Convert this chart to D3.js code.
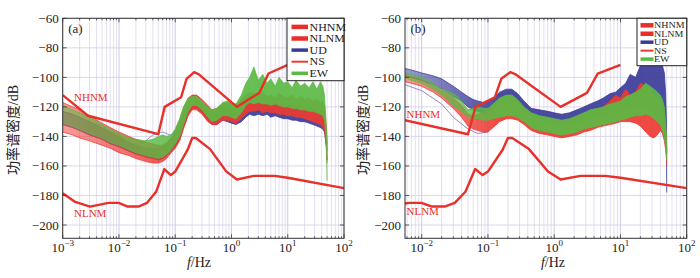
<!DOCTYPE html>
<html>
<head>
<meta charset="utf-8">
<script src="https://cdn.jsdelivr.net/npm/d3@7"></script>
<style>
  body { margin: 0; background: #fff; }
  svg text { font-family: "Liberation Serif", "DejaVu Serif", serif; fill: #222; }
</style>
</head>
<body>
<svg id="chart" width="700" height="278"></svg>
<script>
// ── Noise models (dB vs Hz) ──────────────────────────────────────────────────
const NHNM_F = [0.001, 0.00282, 0.05, 0.065, 0.127, 0.159, 0.217, 0.263, 1.25, 3.125, 4.545, 10];
const NHNM_V = [-112, -126, -138.5, -120, -113.5, -101, -96.5, -98, -120, -110.5, -97.4, -91.5];
const NLNM_F = [0.001, 0.00167, 0.00305, 0.0065, 0.0099, 0.0143, 0.0222, 0.0316, 0.0457, 0.0641,
                0.0833, 0.1, 0.1667, 0.2, 0.2326, 0.4167, 0.806, 1.25, 2.5, 5.88, 10, 100];
const NLNM_V = [-178.5, -184.4, -187.5, -185, -185, -187.5, -187.5, -185, -177.5, -162.1,
                -166.2, -163.8, -149, -141.1, -141.1, -148.6, -163.7, -169.2, -166.7, -166.7, -168, -175];

// ── Panel (a): PSD envelopes per component ───────────────────────────────────
const FA = [0.001, 0.0015, 0.002, 0.003, 0.005, 0.007, 0.01, 0.015, 0.02, 0.03,
            0.04, 0.05, 0.06, 0.07, 0.085, 0.1, 0.12, 0.14, 0.17, 0.2,
            0.24, 0.3, 0.38, 0.45, 0.55, 0.7, 0.85, 1.0, 1.2, 1.5,
            1.8, 2.1, 2.5, 3.0, 3.6, 4.3, 5.0, 6.0, 7.0, 8.5,
            10, 12, 14, 17, 20, 24, 28, 33, 38, 42,
            45, 47, 49, 50];
const UD_A_HI = [-123, -125, -127, -130, -134, -137, -140, -144, -146, -148,
                 -148, -148, -147, -145, -142, -137, -131, -123, -116, -114,
                 -114, -117, -121, -124, -123, -120, -120, -121, -122, -120,
                 -118, -117, -118, -116, -118, -117, -118, -117, -119, -118,
                 -119, -118, -120, -119, -121, -120, -122, -121, -123, -122,
                 -126, -132, -140, -150];
const UD_A_LO = [-132, -134, -136, -139, -142, -145, -147, -150, -152, -154,
                 -155, -156, -155, -153, -150, -147, -142, -134, -125, -121,
                 -121, -124, -129, -132, -132, -129, -130, -131, -132, -130,
                 -127, -125, -126, -125, -126, -125, -127, -126, -127, -128,
                 -128, -129, -129, -130, -130, -131, -132, -133, -134, -135,
                 -137, -142, -148, -156];
const NS_A_HI = [-117, -120, -122, -126, -131, -134, -137, -140, -142, -144,
                 -145, -146, -146, -144, -141, -136, -129, -121, -114, -112,
                 -112, -115, -119, -122, -121, -118, -117, -118, -119, -115,
                 -112, -110, -111, -112, -110, -113, -112, -114, -111, -113,
                 -114, -112, -115, -113, -115, -114, -116, -115, -117, -116,
                 -120, -128, -135, -145];
const NS_A_LO = [-137, -139, -141, -143, -146, -148, -151, -153, -155, -157,
                 -158, -158, -157, -155, -151, -148, -143, -135, -126, -122,
                 -122, -125, -130, -132, -132, -129, -129, -130, -131, -128,
                 -125, -123, -123, -122, -124, -123, -124, -124, -125, -125,
                 -126, -126, -127, -127, -128, -129, -130, -131, -132, -134,
                 -136, -142, -150, -158];
const EW_A_HI = [-119, -122, -124, -127, -132, -135, -138, -141, -142, -143,
                 -142, -140, -139, -140, -139, -135, -128, -120, -114, -113,
                 -113, -116, -120, -122, -121, -117, -116, -117, -118, -112,
                 -104, -100, -93, -102, -98, -104, -101, -106, -100, -104,
                 -103, -107, -102, -106, -104, -107, -103, -108, -103, -106,
                 -112, -124, -138, -150];
const EW_A_LO = [-131, -133, -135, -138, -141, -144, -146, -149, -151, -153,
                 -154, -155, -154, -152, -149, -145, -140, -132, -123, -119,
                 -119, -122, -127, -130, -129, -126, -126, -127, -128, -124,
                 -119, -117, -118, -117, -118, -118, -119, -118, -119, -120,
                 -120, -121, -121, -122, -122, -123, -123, -124, -125, -126,
                 -129, -136, -145, -170];
// a few stray traces sitting above the bundle near 0.05 Hz
const STRAY_A_F = [0.02, 0.03, 0.04, 0.05, 0.06, 0.08, 0.1, 0.12, 0.14];
const STRAY_A_V = [-146, -143, -139, -138, -137, -139, -138, -134, -126];

// ── Panel (b) ────────────────────────────────────────────────────────────────
const FB = [0.0056, 0.007, 0.01, 0.015, 0.02, 0.03, 0.04, 0.05, 0.06, 0.07,
            0.085, 0.1, 0.12, 0.15, 0.19, 0.23, 0.28, 0.35, 0.45, 0.6,
            0.8, 1.0, 1.3, 1.7, 2.2, 2.8, 3.5, 4.5, 5.5, 7,
            8.5, 10, 12, 14, 17, 20, 24, 28, 32, 36,
            40, 43, 46, 48, 49.5, 50];
const UD_B_HI = [-94, -95, -97, -99, -101, -106, -110, -113, -115, -116,
                 -117, -116, -114, -110, -108, -108, -111, -116, -121, -122,
                 -123, -124, -125, -124, -122, -120, -118, -116, -114, -111,
                 -110, -107, -104, -98, -100, -92, -86, -84, -83, -86,
                 -88, -92, -97, -110, -130, -152];
const UD_B_LO = [-99, -100, -102, -105, -108, -113, -116, -120, -122, -123,
                 -124, -124, -122, -119, -117, -117, -119, -123, -127, -129,
                 -130, -131, -132, -132, -131, -129, -128, -127, -126, -125,
                 -124, -124, -122, -121, -120, -119, -120, -122, -125, -128,
                 -130, -134, -138, -142, -148, -178];
const NS_B_HI = [-99, -100, -102, -106, -109, -114, -119, -125, -126, -125,
                 -124, -123, -119, -115, -113, -113, -116, -121, -125, -127,
                 -128, -129, -130, -129, -127, -125, -123, -122, -120, -116,
                 -112, -114, -108, -112, -110, -104, -106, -108, -112, -114,
                 -116, -120, -126, -135, -145, -155];
const NS_B_LO = [-103, -104, -106, -110, -114, -121, -127, -133, -135, -136,
                 -137, -137, -134, -130, -128, -128, -129, -132, -136, -138,
                 -139, -140, -141, -140, -139, -137, -136, -134, -133, -132,
                 -131, -130, -130, -130, -131, -133, -137, -140, -141, -139,
                 -136, -138, -143, -149, -155, -160];
const EW_B_HI = [-97, -98, -100, -104, -108, -111, -116, -122, -121, -120,
                 -121, -121, -118, -114, -112, -112, -115, -120, -124, -126,
                 -127, -128, -129, -128, -126, -124, -122, -121, -120, -118,
                 -117, -116, -113, -112, -110, -108, -104, -106, -108, -110,
                 -112, -115, -120, -130, -140, -150];
const EW_B_LO = [-100, -102, -104, -108, -112, -119, -123, -127, -128, -128,
                 -129, -129, -128, -127, -126, -126, -127, -130, -134, -136,
                 -137, -138, -139, -138, -137, -135, -134, -133, -132, -131,
                 -130, -129, -128, -127, -126, -126, -125, -126, -128, -130,
                 -132, -136, -140, -146, -152, -156];
const STRAY_B_F = [0.0056, 0.01, 0.02, 0.03, 0.05, 0.07, 0.1];
const STRAY_B_V = [-105, -109, -118, -127, -135, -138, -137];

const Y_TICKS = [-60, -80, -100, -120, -140, -160, -180, -200];
const LEGEND_LABELS = ['NHNM', 'NLNM', 'UD', 'NS', 'EW'];

// ── Styles ───────────────────────────────────────────────────────────────────
const RED = '#e8302a', BLUE = '#3a3b98', NSRED = '#ec3a32', GREEN = '#5cb944';
const LEG_STYLE = [
    { color: RED,   w: 4.5 },
    { color: RED,   w: 4.5 },
    { color: BLUE,  w: 3.5 },
    { color: NSRED, w: 2 },
    { color: GREEN, w: 3.5 },
];

const svg = d3.select('#chart');
const defs = svg.append('defs');
const zip = (fs, his, los) => fs.map((f, i) => ({ f, hi: his[i], lo: los[i] }));
const pts = (fs, vs) => fs.map((f, i) => ({ f, v: vs[i] }));

const PANELS = [
    {
        id: 'a', tag: '(a)', left: 62.7, right: 344, fDomain: [1e-3, 100],
        bands: [
            { key: 'ud', color: BLUE,  data: zip(FA, UD_A_HI, UD_A_LO) },
            { key: 'ns', color: NSRED, data: zip(FA, NS_A_HI, NS_A_LO) },
            { key: 'ew', color: GREEN, data: zip(FA, EW_A_HI, EW_A_LO) },
        ],
        stray: pts(STRAY_A_F, STRAY_A_V), strayColor: '#8a9cc4',
        hnLabel: [74, 101], lnLabel: [74, 217],
        legend: { x0: 287, y0: 18.3, y1: 80.7, fs: 12, sy: 0.82, base: 30.5, step: 11.6, sw: [291.5, 308], tx: 309.5 },
        ylabX: 13, xlabX: 199,
    },
    {
        id: 'b', tag: '(b)', left: 405, right: 686.7, fDomain: [0.0056, 100],
        bands: [
            { key: 'ud', color: BLUE,  data: zip(FB, UD_B_HI, UD_B_LO) },
            { key: 'ns', color: NSRED, data: zip(FB, NS_B_HI, NS_B_LO) },
            { key: 'ew', color: GREEN, data: zip(FB, EW_B_HI, EW_B_LO) },
        ],
        stray: pts(STRAY_B_F, STRAY_B_V), strayColor: '#9a86c0',
        hnLabel: [406.5, 118], lnLabel: [406.5, 215],
        legend: { x0: 637, y0: 18.3, y1: 65.7, fs: 10, sy: 0.78, base: 28.3, step: 8.45, sw: [640.5, 653.5], tx: 654 },
        ylabX: 362.5, xlabX: 553,
    },
];

const TOP = 18.3, BOTTOM = 238.3;

PANELS.forEach(p => {
    const x = d3.scaleLog().domain(p.fDomain).range([p.left, p.right]);
    const y = d3.scaleLinear().domain([-209, -60]).range([BOTTOM, TOP]);
    const g = svg.append('g').attr('class', 'panel-' + p.id);

    // clip
    defs.append('clipPath').attr('id', 'clip-' + p.id)
        .append('rect').attr('x', p.left).attr('y', TOP)
        .attr('width', p.right - p.left).attr('height', BOTTOM - TOP);

    // low-frequency traces are thin and sparse -> lighter fill on the left
    p.bands.forEach(b => {
        const grad = defs.append('linearGradient')
            .attr('id', `grad-${p.id}-${b.key}`)
            .attr('gradientUnits', 'userSpaceOnUse')
            .attr('x1', p.left).attr('x2', x(0.15)).attr('y1', 0).attr('y2', 0);
        grad.append('stop').attr('offset', 0).attr('stop-color', b.color).attr('stop-opacity', 0.5);
        grad.append('stop').attr('offset', 1).attr('stop-color', b.color).attr('stop-opacity', 0.92);
    });

    // ticks on log axis
    const lo = Math.floor(Math.log10(p.fDomain[0])), hi = Math.ceil(Math.log10(p.fDomain[1]));
    const minors = [], majors = [];
    for (let d = lo; d <= hi; d++) {
        for (let k = 1; k <= 9; k++) {
            const f = k * Math.pow(10, d);
            if (f < p.fDomain[0] * 0.999 || f > p.fDomain[1] * 1.001) continue;
            (k === 1 ? majors : minors).push({ f, e: d });
        }
    }

    // grid
    const grid = g.append('g').attr('class', 'grid');
    grid.selectAll('.gv-minor').data(minors).join('line')
        .attr('x1', d => x(d.f)).attr('x2', d => x(d.f))
        .attr('y1', TOP).attr('y2', BOTTOM)
        .attr('stroke', '#dcd7ee').attr('stroke-width', 0.8);
    grid.selectAll('.gv-major').data(majors).join('line')
        .attr('x1', d => x(d.f)).attr('x2', d => x(d.f))
        .attr('y1', TOP).attr('y2', BOTTOM)
        .attr('stroke', '#c9c3e3').attr('stroke-width', 0.9);
    grid.selectAll('.gh').data(Y_TICKS).join('line')
        .attr('x1', p.left).attr('x2', p.right)
        .attr('y1', d => y(d)).attr('y2', d => y(d))
        .attr('stroke', '#d3cde9').attr('stroke-width', 0.8);

    // bundles
    const area = d3.area()
        .x(d => x(d.f)).y0(d => y(d.lo)).y1(d => y(d.hi));
    const lineHi = d3.line().x(d => x(d.f)).y(d => y(d.hi));
    const lineLo = d3.line().x(d => x(d.f)).y(d => y(d.lo));
    const bandsG = g.append('g').attr('clip-path', `url(#clip-${p.id})`);

    bandsG.append('path').datum(p.stray)
        .attr('d', d3.line().x(d => x(d.f)).y(d => y(d.v)))
        .attr('fill', 'none').attr('stroke', p.strayColor).attr('stroke-width', 1);

    p.bands.forEach(b => {
        bandsG.append('path').datum(b.data)
            .attr('d', area)
            .attr('fill', `url(#grad-${p.id}-${b.key})`);
        [lineHi, lineLo].forEach(gen => {
            bandsG.append('path').datum(b.data)
                .attr('d', gen)
                .attr('fill', 'none').attr('stroke', b.color)
                .attr('stroke-width', 0.9).attr('stroke-opacity', 0.85);
        });
    });

    // noise models
    const modelLine = d3.line().x(d => x(d.f)).y(d => y(d.v));
    [pts(NHNM_F, NHNM_V), pts(NLNM_F, NLNM_V)].forEach(m => {
        bandsG.append('path').datum(m)
            .attr('d', modelLine)
            .attr('fill', 'none').attr('stroke', RED).attr('stroke-width', 2.4)
            .attr('stroke-linejoin', 'round');
    });

    g.append('text').attr('x', p.hnLabel[0]).attr('y', p.hnLabel[1])
        .attr('font-size', 11).style('fill', RED).text('NHNM');
    g.append('text').attr('x', p.lnLabel[0]).attr('y', p.lnLabel[1])
        .attr('font-size', 11).style('fill', RED).text('NLNM');

    // frame
    g.append('rect').attr('x', p.left).attr('y', TOP)
        .attr('width', p.right - p.left).attr('height', BOTTOM - TOP)
        .attr('fill', 'none').attr('stroke', '#333').attr('stroke-width', 1);

    // inward ticks
    const tk = g.append('g').attr('stroke', '#333').attr('stroke-width', 0.8);
    majors.forEach(d => {
        tk.append('line').attr('x1', x(d.f)).attr('x2', x(d.f)).attr('y1', BOTTOM).attr('y2', BOTTOM - 4);
        tk.append('line').attr('x1', x(d.f)).attr('x2', x(d.f)).attr('y1', TOP).attr('y2', TOP + 4);
    });
    minors.forEach(d => {
        tk.append('line').attr('x1', x(d.f)).attr('x2', x(d.f)).attr('y1', BOTTOM).attr('y2', BOTTOM - 2);
        tk.append('line').attr('x1', x(d.f)).attr('x2', x(d.f)).attr('y1', TOP).attr('y2', TOP + 2);
    });
    Y_TICKS.forEach(v => {
        tk.append('line').attr('x1', p.left).attr('x2', p.left + 4).attr('y1', y(v)).attr('y2', y(v));
        tk.append('line').attr('x1', p.right).attr('x2', p.right - 4).attr('y1', y(v)).attr('y2', y(v));
    });

    // y tick labels
    g.selectAll('.ylab').data(Y_TICKS).join('text')
        .attr('x', p.left - 4).attr('y', d => y(d) + 4.5)
        .attr('text-anchor', 'end').attr('font-size', 13)
        .text(d => '\u2212' + Math.abs(d));

    // x tick labels 10^n
    majors.forEach(d => {
        const t = g.append('text').attr('x', x(d.f)).attr('y', 252)
            .attr('text-anchor', 'middle').attr('font-size', 13);
        t.append('tspan').text('10');
        t.append('tspan').attr('dy', -6).attr('font-size', 9)
            .text(d.e < 0 ? '\u2212' + Math.abs(d.e) : String(d.e));
    });

    // axis titles
    const xl = g.append('text').attr('x', p.xlabX).attr('y', 267)
        .attr('text-anchor', 'middle').attr('font-size', 14);
    xl.append('tspan').attr('font-style', 'italic').text('f');
    xl.append('tspan').text('/Hz');

    const yl = g.append('text')
        .attr('transform', `translate(${p.ylabX + 5},130) rotate(-90)`)
        .attr('text-anchor', 'middle').attr('font-size', 14);
    yl.append('tspan').style('font-family', '"Noto Sans CJK SC", sans-serif').text('功率谱密度');
    yl.append('tspan').text('/dB');

    // panel tag
    g.append('text').attr('x', p.left + 5.5).attr('y', 33)
        .attr('font-size', 13).text(p.tag);

    // legend
    const L = p.legend;
    const lg = g.append('g').attr('class', 'legend');
    lg.append('rect').attr('x', L.x0).attr('y', L.y0)
        .attr('width', p.right - L.x0).attr('height', L.y1 - L.y0)
        .attr('fill', '#fff').attr('stroke', '#222').attr('stroke-width', 1);
    LEGEND_LABELS.forEach((lab, i) => {
        const by = L.base + i * L.step;
        const st = LEG_STYLE[i];
        lg.append('line').attr('x1', L.sw[0]).attr('x2', L.sw[1])
            .attr('y1', by - L.fs * 0.3).attr('y2', by - L.fs * 0.3)
            .attr('stroke', st.color).attr('stroke-width', st.w);
        lg.append('text')
            .attr('transform', `translate(${L.tx},${by}) scale(1,${L.sy})`)
            .attr('font-size', L.fs).text(lab);
    });
});
</script>
</body>
</html>
